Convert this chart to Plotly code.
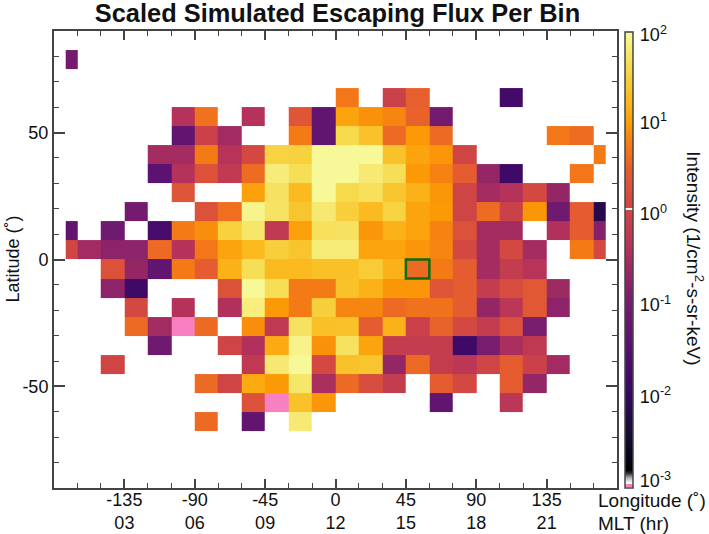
import numpy as np
import plotly.graph_objects as go

_ = None

# bin edges, degrees
lon_edges = [-172.5, -165, -150, -135, -120, -105, -90, -75, -60, -45, -30, -15, 0,
             15, 30, 45, 60, 75, 90, 105, 120, 135, 150, 165, 172.5]
lat_edges = [-67.5, -60, -52.5, -45, -37.5, -30, -22.5, -15, -7.5, 0, 7.5, 15, 22.5,
             30, 37.5, 45, 52.5, 60, 67.5, 75, 82.5]

# Flux per row (1/cm2-s-sr-keV), named by the lower latitude edge, 24 longitude bins each
# 0.001 is the out of range value, which the colour table draws pink
lat_m67 = [_, _, _, _, _, _, 4, _, .053, _, 63, _, _, _, _, _, _, _, _, _, _, _, _, _]
lat_m60 = [_, _, _, _, _, _, _, _, 1.9, .001, 22, 8.4, _, _, _, _, .053, _, _, .53, _, _, _, _]
lat_m52 = [_, _, _, _, _, _, 4, 1.07, 12.6, 9, 56, .33, 4, 1.6, .72, _, 3, 1.33, _, 3, .21, _, _, _]
lat_m45 = [_, _, 1.07, _, _, _, _, _, .6, 60, 95, 1.33, 22, 24, .21, 4, .72, .53, 1.07, 3, .9, .28, _, _]
lat_m37 = [_, _, _, _, .09, _, _, 1.07, .38, 12.6, 80, 7.9, 50, 11, .72, .72, .72, .015, .11, .33, .6, _, _, _]
lat_m30 = [_, _, _, 4, .28, .001, 4, _, 7.5, .6, 50, 21, 22, 3, 15, .9, 3.4, 1.33, .72, 1.9, .11, _, _, _]
lat_m22 = [_, _, _, 1.33, _, .42, _, .38, 71, 9, 5.6, 30, 6.7, 6.7, 4, 4.7, 4.7, 3, .21, .53, 2.5, .18, _, _]
lat_m15 = [_, _, .18, .015, _, _, _, 1.9, 95, 45, 5.6, 5.6, 22, 15, 8.4, 8.4, 2.2, 3, .72, 1.6, 2.5, .26, _, _]
lat_m07 = [_, _, 1.9, .21, .053, 5.6, 3, 15, 45, 18, 18, 21, 21, 28, 15, 4, 5.6, 3, .3, .72, .45, _, _, _]
lat_p00 = [1.2, .28, .18, .18, 4, .42, 5.3, 11, 18, 30, 24, 65, 65, 11, 11, 8.4, 6.7, 1.33, .3, 1.33, .3, _, 5.6, 1.33]
lat_p07 = [.053, _, .09, _, .02, 5.6, 7.5, 32, 56, .6, 10, 48, 50, 8.4, 15, 11, 6.3, 1.9, .3, .3, _, .38, 3, .15]
lat_p15 = [_, _, _, .1, _, _, 1.9, 4.5, 84, 52, 24, 60, 30, 18, 34, 11, 9, 1.07, 4.2, .9, 8.4, .09, 3, .0065]
lat_p22 = [_, _, _, _, _, 2.2, _, _, 10, 50, 18, 95, 40, 48, 24, 15, 8.4, 1.07, .3, .42, 1.33, .21, _, _]
lat_p30 = [_, _, _, _, .04, .42, 1.9, .63, 4.2, 67, 45, 95, 95, 62, 45, 9, 6.3, 3, .21, .015, _, _, 5.3, _]
lat_p37 = [_, _, _, _, .3, .3, 5.6, .45, 1.33, 34, 32, 95, 95, 95, 22, 11, 8.4, 1.07, _, _, _, _, _, 5.6]
lat_p45 = [_, _, _, _, _, .053, .9, .28, _, _, 5.6, .053, 40, 22, 4, 9, 4, _, _, _, _, 5.3, 4.2, _]
lat_p52 = [_, _, _, _, _, .42, 4.7, _, .42, _, 2.2, .053, 11, 7.9, 6.7, 3.4, .1, _, _, _, _, _, _, _]
lat_p60 = [_, _, _, _, _, _, _, _, _, _, _, _, 5.3, _, .9, 3.2, _, _, _, .018, _, _, _, _]
lat_p67 = [_] * 24
lat_p75 = [.1] + [_] * 23

rows = [lat_m67, lat_m60, lat_m52, lat_m45, lat_m37, lat_m30, lat_m22, lat_m15, lat_m07, lat_p00,
        lat_p07, lat_p15, lat_p22, lat_p30, lat_p37, lat_p45, lat_p52, lat_p60, lat_p67, lat_p75]

# highlighted bin
box_lon = [45, 60]
box_lat = [-7.5, 0]

lon_ticks = [-135, -90, -45, 0, 45, 90, 135]
mlt_ticks = ['03', '06', '09', '12', '15', '18', '21']
lat_ticks = [-50, 0, 50]
bar_exponents = [-3, -2, -1, 0, 1, 2]
# the end labels sit just inside the bar, as in the original
bar_ticks = [-2.93, -2, -1, 0, 1, 1.96]

# Colour table, with the reserved slots at the bottom
colors = [[0, '#f880c0'], [0.007, '#f880c0'], [0.007, '#ffffff'], [0.012, '#e8e8e8'], [0.02, '#b0b0b0'],
          [0.03, '#303030'], [0.037, '#000004'], [0.103, '#130a2a'], [0.18, '#2b0a55'], [0.246, '#42096a'],
          [0.316, '#5a1270'], [0.388, '#6f1970'], [0.45, '#8c2369'], [0.524, '#b5325a'],
          [0.608, '#d04545'], [0.608, '#ffffff'], [0.612, '#ffffff'], [0.612, '#d04545'],
          [0.695, '#e55c30'], [0.75, '#f47a16'], [0.79, '#fb9a06'], [0.849, '#fbb91e'],
          [0.914, '#f6d746'], [1, '#f7fa9c']]

z = np.log10(np.array(rows, dtype=float))

text_color = '#111111'
frame_color = '#444444'

fig = go.Figure()
fig.add_trace(go.Heatmap(
    x=lon_edges, y=lat_edges, z=z,
    zmin=-3, zmax=2, colorscale=colors,
    colorbar=dict(
        thickness=8, thicknessmode='pixels',
        len=456, lenmode='pixels',
        x=1.0142, xanchor='left', xpad=0,
        y=0.5, yanchor='middle', ypad=0,
        outlinecolor=frame_color, outlinewidth=1.5,
        ticks='outside', ticklen=3, tickcolor='rgba(0,0,0,0)', tickvals=bar_ticks,
        ticktext=['10<sup>%d</sup>' % t for t in bar_exponents],
        tickfont=dict(size=18, color=text_color),
    ),
))

# green box round the selected bin
fig.add_shape(type='rect', x0=box_lon[0], x1=box_lon[1], y0=box_lat[0], y1=box_lat[1],
              line=dict(color='#0c6b0c', width=2.5))

# labels placed by hand
fig.add_annotation(text='Longitude (˚)', xref='paper', yref='paper', x=1.0, y=0.0, xshift=-21,
                   xanchor='left', yanchor='top', showarrow=False, align='left',
                   font=dict(size=19, color=text_color))
fig.add_annotation(text='MLT (hr)', xref='paper', yref='paper', x=1.0, y=-0.05, xshift=-21,
                   xanchor='left', yanchor='top', showarrow=False, align='left',
                   font=dict(size=19, color=text_color))
fig.add_annotation(text='Latitude (˚)', xref='paper', yref='paper', x=0, y=0.5, xshift=-42,
                   xanchor='center', yanchor='middle', textangle=-90, showarrow=False,
                   font=dict(size=18, color=text_color))
fig.add_annotation(text='Intensity (1/cm<sup>2</sup>-s-sr-keV)', xref='paper', yref='paper',
                   x=1.0, y=0.503, xshift=78, xanchor='center', yanchor='middle', textangle=90,
                   showarrow=False, font=dict(size=19, color=text_color))

fig.update_xaxes(
    range=[-180, 180], showgrid=False, zeroline=False, automargin=False,
    tickmode='array', tickvals=lon_ticks,
    ticktext=['%d<br>%s' % (a, b) for a, b in zip(lon_ticks, mlt_ticks)],
    ticks='inside', ticklen=9, tickwidth=1.5, tickcolor=frame_color, ticklabelstandoff=-6,
    showline=True, linecolor=frame_color, linewidth=2, mirror='allticks',
    minor=dict(dtick=15, tick0=0, ticks='inside', ticklen=5, tickwidth=1.2, tickcolor=frame_color),
    tickfont=dict(size=18, color=text_color),
)
fig.update_yaxes(
    range=[-90, 90], showgrid=False, zeroline=False, automargin=False,
    tickmode='array', tickvals=lat_ticks, ticktext=[str(t) for t in lat_ticks],
    ticks='inside', ticklen=11, tickwidth=1.5, tickcolor=frame_color,
    showline=True, linecolor=frame_color, linewidth=2, mirror='allticks',
    minor=dict(dtick=10, tick0=0, ticks='inside', ticklen=5, tickwidth=1.2, tickcolor=frame_color),
    tickfont=dict(size=18, color=text_color),
)
fig.update_layout(
    width=709, height=534,
    margin=dict(l=54, r=92, t=31, b=46, autoexpand=False),
    paper_bgcolor='white', plot_bgcolor='white',
    font=dict(family='Liberation Sans, Arial, sans-serif'),
    title=dict(text='<b>Scaled Simulated Escaping Flux Per Bin</b>', x=0.476, xanchor='center',
               y=0.976, yanchor='middle', font=dict(size=25.4, color=text_color)),
    showlegend=False,
)

# drop the default page margin so the figure sits at the window corner
fig.write_html("out.html", config={'displayModeBar': False},
               post_script="document.body.style.margin='0';")
